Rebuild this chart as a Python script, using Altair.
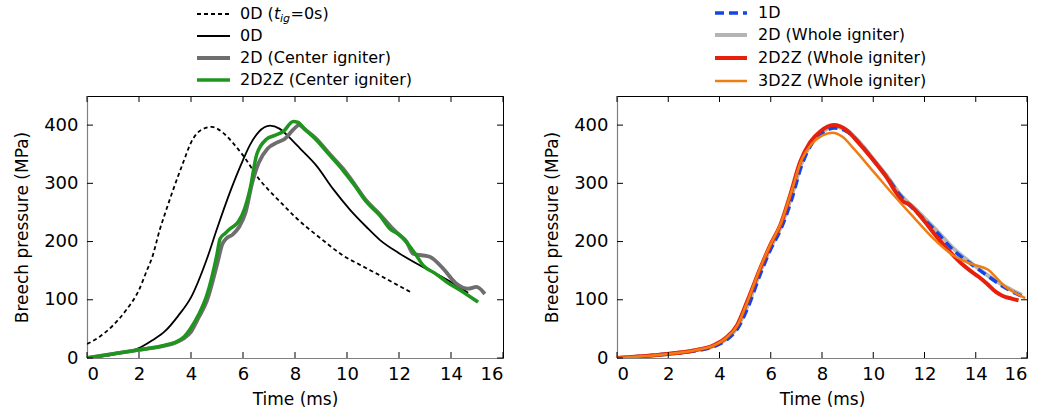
import altair as alt
import pandas as pd

FONT = "DejaVu Sans"

# ---------------- data ----------------
x_ticks = [0, 2, 4, 6, 8, 10, 12, 14, 16]
y_ticks = [0, 100, 200, 300, 400]

# Left panel
d0_t = [0, 0.5, 1, 1.5, 2, 2.3, 2.5, 2.81, 3, 3.5, 3.71, 4, 4.4, 4.8, 5.2, 5.6, 6, 6.66, 7, 7.5,
        8.06, 9, 9.85, 10.5, 11.26, 12, 12.5]
d0_p = [24, 37, 56, 82, 117, 150, 172, 222, 248, 312, 337, 370, 392, 397, 388, 370, 348, 305, 288, 265,
        240, 205, 176, 160, 142, 124, 112]

s0_t = [0, 1, 2, 2.5, 3, 3.5, 4, 4.61, 5, 5.5, 6, 6.27, 6.6, 7.04, 7.4, 7.8, 8.19, 8.83, 9.47, 10.11,
        10.75, 11.26, 12, 12.93, 13.82, 14.66]
s0_p = [0, 6, 17, 30, 46, 72, 104, 170, 222, 285, 340, 366, 388, 399, 394, 378, 360, 330, 290, 255,
        225, 203, 180, 156, 135, 112]

c2d_t = [0, 1, 2, 3, 3.4, 3.7, 4.0, 4.3, 4.61, 5.0, 5.2, 5.35, 5.6, 5.85, 6.1, 6.35, 6.6, 6.95, 7.3,
         7.6, 7.95, 8.15, 8.4, 8.83, 9.3, 9.85, 10.3, 10.75, 11.26, 11.7, 12.0, 12.29, 12.54, 13.18,
         13.69, 14.2, 14.66, 14.98, 15.3]
c2d_p = [0, 7, 14, 21, 26, 33, 45, 70, 98, 160, 195, 205, 212, 225, 250, 300, 335, 360, 370,
         376, 393, 400, 392, 376, 352, 325, 298, 270, 247, 225, 212, 200, 179, 174,
         154, 128, 119, 122, 110]

c2d2z_t = [0, 1, 2, 3, 3.4, 3.7, 3.97, 4.3, 4.61, 4.99, 5.12, 5.31, 5.5, 5.82, 6.05, 6.27, 6.53, 6.91,
           7.2, 7.55, 7.93, 8.1, 8.4, 8.83, 9.3, 9.85, 10.3, 10.75, 11.26, 11.65, 12.03, 12.61, 12.93,
           13.4, 13.82, 14.4, 15.04]
c2d2z_p = [0, 7, 14, 22, 27, 35, 50, 75, 108, 176, 205, 214, 222, 234, 255, 290, 350, 376,
           382, 389, 406, 405, 392, 374, 350, 322, 296, 268, 245, 222, 211, 180, 159,
           145, 131, 115, 96]

# Right panel
w1d_t = [0, 1, 2, 3, 3.8, 4.3, 4.7, 5.1, 5.6, 6.0, 6.4, 6.8, 7.2, 7.6, 8.0, 8.5, 9.0, 9.6, 10.0,
         10.53, 11.0, 11.83, 12.5, 13.13, 13.8, 14.43, 15.1, 15.8]
w1d_p = [0, 3, 7, 12, 20, 32, 50, 86, 145, 187, 222, 270, 330, 368, 386, 395, 388, 362, 340,
         311, 282, 245, 215, 185, 162, 142, 122, 106]

w2d_t = w1d_t
w2d_p = [0, 3, 7, 13, 21, 34, 53, 90, 150, 190, 226, 276, 334, 370, 388, 397, 390, 364, 342,
         313, 284, 248, 218, 188, 164, 143, 124, 108]

w2d2z_t = [0, 1, 1.95, 3, 3.77, 4.29, 4.68, 5.07, 5.59, 5.98, 6.37, 6.76, 7.15, 7.54, 7.93, 8.45,
           8.97, 9.3, 9.62, 10.0, 10.27, 10.53, 10.79, 11.18, 11.4, 11.57, 11.96, 12.48, 13.13, 13.5,
           13.78, 14.1, 14.43, 14.8, 15.08, 15.4, 15.67]
w2d2z_p = [0, 3, 7, 13, 22, 36, 56, 96, 154, 194, 228, 280, 337, 371, 389, 400,
           391, 376, 360, 340, 325, 310, 291, 268, 264, 257, 237, 208, 176, 160,
           150, 140, 128, 113, 106, 102, 99]

w3d2z_t = [0, 1, 2, 3, 3.8, 4.3, 4.7, 5.1, 5.6, 6.0, 6.4, 6.8, 7.2, 7.6, 8.0, 8.4, 8.8, 9.23, 10.01,
           10.79, 11.57, 12.35, 13.13, 13.8, 14.5, 14.8, 15.08, 15.5, 15.93]
w3d2z_p = [0, 3, 7, 13, 22, 36, 56, 98, 156, 196, 232, 285, 340, 368, 382, 387, 380, 360, 320,
           280, 242, 205, 176, 162, 151, 138, 125, 113, 103]

left_names = ["0D (t_ig=0s)", "0D", "2D (Center igniter)", "2D2Z (Center igniter)"]
right_names = ["1D", "2D (Whole igniter)", "2D2Z (Whole igniter)", "3D2Z (Whole igniter)"]

# styles: color, width, dash
left_series = [
    (d0_t, d0_p, "#000000", 1.8, [4, 3]),
    (s0_t, s0_p, "#000000", 1.8, None),
    (c2d_t, c2d_p, "#6e6e6e", 3.8, None),
    (c2d2z_t, c2d2z_p, "#1e961e", 3.5, None),
]
right_series = [
    (w1d_t, w1d_p, "#1446e6", 3.5, [9, 5]),
    (w2d_t, w2d_p, "#b4b4b4", 4.0, None),
    (w2d2z_t, w2d2z_p, "#e6200a", 4.0, None),
    (w3d2z_t, w3d2z_p, "#f07d14", 2.5, None),
]
# drawing order for right panel: gray, blue, red, orange
right_draw_order = [1, 0, 2, 3]

H = 262
XS = alt.Scale(domain=[0, 16], nice=False, zero=False)
YS = alt.Scale(domain=[0, 450], nice=False, zero=False)


def line_layer(t, p, color, width, dash):
    df = pd.DataFrame({"t": t, "p": p})
    kw = dict(color=color, strokeWidth=width, clip=True, interpolate="monotone")
    if dash:
        kw["strokeDash"] = dash
    return alt.Chart(df).mark_line(**kw).encode(
        x=alt.X("t:Q", scale=XS,
                axis=alt.Axis(values=x_ticks, title="Time (ms)", titlePadding=8, labelPadding=7)),
        y=alt.Y("p:Q", scale=YS,
                axis=alt.Axis(values=y_ticks, title="Breech pressure (MPa)", titlePadding=12,
                              labelPadding=9)),
        order=alt.Order("t:Q"),
    )


def tick_layers(W):
    dx = pd.DataFrame({"v": x_ticks})
    dy = pd.DataFrame({"v": y_ticks})
    L = 6
    layers = [
        alt.Chart(dx).mark_rule(color="black", strokeWidth=1).encode(
            x=alt.X("v:Q", scale=XS), y=alt.value(H), y2=alt.value(H - L)),
        alt.Chart(dx).mark_rule(color="black", strokeWidth=1).encode(
            x=alt.X("v:Q", scale=XS), y=alt.value(0), y2=alt.value(L)),
        alt.Chart(dy).mark_rule(color="black", strokeWidth=1).encode(
            y=alt.Y("v:Q", scale=YS), x=alt.value(0), x2=alt.value(L)),
        alt.Chart(dy).mark_rule(color="black", strokeWidth=1).encode(
            y=alt.Y("v:Q", scale=YS), x=alt.value(W), x2=alt.value(W - L)),
    ]
    return layers


def legend_layers(names, series, x0, x1, xt, rows):
    layers = []
    for name, (t, p, color, width, dash), ry in zip(names, series, rows):
        kw = dict(color=color, strokeWidth=width)
        if dash:
            kw["strokeDash"] = dash
        one = pd.DataFrame({"label": [name]})
        layers.append(alt.Chart(one).mark_rule(**kw).encode(
            x=alt.value(x0), x2=alt.value(x1), y=alt.value(ry)))
        if name == "0D (t_ig=0s)":
            parts = [("0D (", 16, "normal", 0, 0.0),
                     ("t", 16, "italic", 0, 34.0),
                     ("ig", 11, "italic", 5, 40.0),
                     ("=0s)", 16, "normal", 0, 50.5)]
            for txt, fs, style, dy, off in parts:
                dfp = pd.DataFrame({"label": [txt]})
                layers.append(alt.Chart(dfp).mark_text(
                    align="left", baseline="middle", font=FONT, fontSize=fs, fontStyle=style,
                    dy=dy, color="black").encode(
                    x=alt.value(xt + off), y=alt.value(ry), text="label:N"))
        else:
            layers.append(alt.Chart(one).mark_text(
                align="left", baseline="middle", font=FONT, fontSize=16, color="black").encode(
                x=alt.value(xt), y=alt.value(ry), text="label:N"))
    return layers


# Left panel
left_lines = [line_layer(*s) for s in left_series]
left = alt.layer(
    *left_lines,
    *tick_layers(416),
    *legend_layers(left_names, left_series, 110, 143, 153, [-82, -60, -38, -16]),
).properties(width=416, height=H)

# Right panel
right_lines = [line_layer(*right_series[i]) for i in right_draw_order]
right = alt.layer(
    *right_lines,
    *tick_layers(410),
    *legend_layers(right_names, right_series, 98, 130, 141, [-83, -61, -38, -15]),
).properties(width=410, height=H)

chart = alt.hconcat(left, right, spacing=39).properties(
    padding={"left": 13, "top": 4, "right": 5, "bottom": 2},
    background="white",
).configure_view(stroke="black", strokeWidth=1).configure_axis(
    grid=False, ticks=False, tickSize=0, domainColor="#808080", domainWidth=1.2,
    labelFont=FONT, titleFont=FONT, labelFontSize=18, titleFontSize=17,
    labelColor="black", titleColor="black", titleFontWeight="normal",
)

chart.save("out.html", embed_options={"renderer": "svg", "actions": False})
